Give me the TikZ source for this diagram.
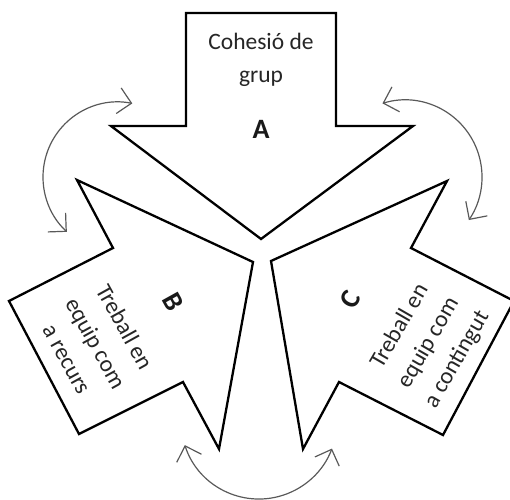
\documentclass[tikz,border=0pt]{standalone}
\usepackage{fontspec}
\setmainfont{Carlito}
\usetikzlibrary{arrows.meta}
\begin{document}
\begin{tikzpicture}[x=1pt,y=1pt,
  bigarrow/.style={draw=black, line width=2.3pt, fill=white, line join=miter},
  cyc/.style={draw=black!65, line width=1.2pt,
    {Straight Barb[length=13pt,width=26pt]}-{Straight Barb[length=13pt,width=26pt]}},
  lbl/.style={align=center, font=\fontsize{23.5}{33}\selectfont, text=black!85},
  letter/.style={font=\fontsize{28}{30}\selectfont\bfseries, text=black!90}]
\useasboundingbox (0,0) rectangle (510,499);
% big arrows
\draw[bigarrow] (186,486) -- (336,486) -- (336,373) -- (413,373) -- (261,260) -- (111,373) -- (186,373) -- cycle;
\draw[bigarrow] (253,237) -- (77,319) -- (113,251) -- (9,198) -- (79,65) -- (183,117) -- (219,50) -- cycle;
\draw[bigarrow] (271,238) -- (447,318) -- (411,251) -- (514,198) -- (443,64) -- (339,117) -- (303,50) -- cycle;
% labels
\node[lbl] (tA) at (261,439) {Cohesió de\\grup};
\node[letter] (lA) at (261,370) {A};
\node[lbl, rotate=-61] (tB) at (96,156) {Treball en\\equip com\\a recurs};
\node[letter, rotate=-61] (lB) at (173,197) {B};
\node[lbl, rotate=60] (tC) at (428.5,156) {Treball en\\equip com\\a contingut};
\node[letter, rotate=60] (lC) at (350,199) {C};
% cycle arrows
\coordinate (cL) at (118,322);
\coordinate (cR) at (405,322);
\coordinate (cB) at (259,78);
\draw[cyc] (cL) ++(79:75) arc[start angle=79, end angle=227, radius=75];
\draw[cyc] (cR) ++(107:77) arc[start angle=107, end angle=-34, radius=77];
\draw[cyc] (cB) ++(-162:78) arc[start angle=-162, end angle=-20.7, radius=78];
\end{tikzpicture}
\end{document}
